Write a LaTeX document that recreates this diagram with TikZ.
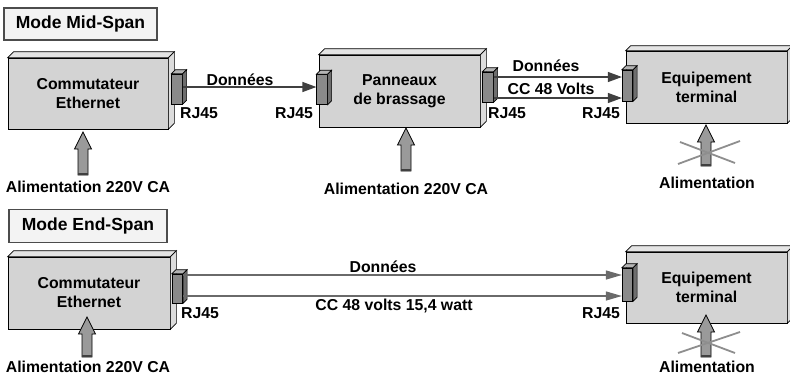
\documentclass[tikz,border=0pt]{standalone}
\usepackage{fontspec}
\setmainfont{Liberation Sans}
\usetikzlibrary{arrows.meta,calc}
\definecolor{frontc}{HTML}{D3D3D3}
\definecolor{topc}{HTML}{E4E4E4}
\definecolor{sidec}{HTML}{DCDCDC}
\definecolor{confront}{HTML}{8A8A8A}
\definecolor{contop}{HTML}{B4B4B4}
\definecolor{conside}{HTML}{6E6E6E}
\definecolor{titlefill}{HTML}{F3F3F3}
\definecolor{pwrfill}{HTML}{9A9A9A}
\definecolor{crossc}{HTML}{8E8E8E}
\definecolor{endline}{HTML}{6A6A6A}
\newcommand\solidfaces[4]{%
  \draw[line width=0.7pt, fill=#3] (#1.north west) -- ++(#2,-#2) -- ([shift={(#2,-#2)}]#1.north east) -- (#1.north east) -- cycle;
  \draw[line width=0.7pt, fill=#4] (#1.north east) -- ++(#2,-#2) -- ([shift={(#2,-#2)}]#1.south east) -- (#1.south east) -- cycle;}
\newcommand\powerarrow[3]{%
  \draw[line width=0.7pt, fill=pwrfill] (#1,#2) -- (#1+8.5,#2+17) -- (#1+5,#2+17) -- (#1+5,#3) -- (#1-5,#3) -- (#1-5,#2+17) -- (#1-8.5,#2+17) -- cycle;
  \draw[line width=1.6pt, black!75] (#1-5,#3-0.8) -- (#1+5,#3-0.8);}
\begin{document}
\begin{tikzpicture}[x=1pt,y=-1pt,
  txt/.style={font=\fontsize{15.8}{19}\selectfont\bfseries},
  lbl/.style={txt, inner sep=0},
  box/.style={txt, draw=black, line width=0.7pt, fill=frontc, inner sep=0, align=center},
  conn/.style={draw=black, line width=0.7pt, fill=confront, inner sep=0, minimum width=10.5, minimum height=30},
  title/.style={font=\fontsize{17.5}{20}\selectfont\bfseries, draw=black!70, line width=1.2pt, fill=titlefill, inner sep=0},
  midarr/.style={line width=1.2pt, black!75, -{Triangle[length=14pt,width=10pt]}},
  endarr/.style={line width=1.2pt, endline, -{Triangle[length=16pt,width=9pt]}},
  crossl/.style={line width=1.8pt, crossc}]
\useasboundingbox (0,0) rectangle (790,376);

% ---------- Mid-Span ----------
\node[title, minimum width=153, minimum height=32] (t1) at (80.5,24) {Mode Mid-Span};

\node[box, minimum width=160, minimum height=71] (b1) at (88,93.5) {Commutateur\\Ethernet};
\solidfaces{b1}{6}{topc}{sidec}
\node[box, minimum width=161, minimum height=72] (b2) at (399.5,91) {Panneaux\\de brassage};
\solidfaces{b2}{6}{topc}{sidec}
\node[box, minimum width=161, minimum height=72] (b3) at (706.5,87) {Equipement\\terminal};
\solidfaces{b3}{5}{topc}{sidec}

\node[conn] (c1) at (177,89) {};
\solidfaces{c1}{4}{contop}{conside}
\node[conn] (c2) at (322,89.5) {};
\solidfaces{c2}{4}{contop}{conside}
\node[conn] (c3) at (488,87) {};
\solidfaces{c3}{4}{contop}{conside}
\node[conn, minimum height=31] (c4) at (627.5,85.5) {};
\solidfaces{c4}{4}{contop}{conside}

\node[lbl] (r1) at (199,113) {RJ45};
\node[lbl] (r2) at (294,113) {RJ45};
\node[lbl] (r3) at (507,113) {RJ45};
\node[lbl] (r4) at (601,113) {RJ45};

\draw[midarr] ([yshift=2pt]c1.east) -- ([yshift=2pt]c1.east -| c2.west);
\node[lbl] (d1) at (240,80) {Données};
\draw[midarr] ([yshift=10pt]c3.east) -- ([yshift=10pt]c3.east -| c4.west);
\draw[midarr] ([yshift=-11pt]c3.east) -- ([yshift=-11pt]c3.east -| c4.west);
\node[lbl] (d2) at (546,66) {Données};
\node[lbl] (v2) at (551,89) {CC 48 Volts};

\powerarrow{83}{132}{175}
\node[lbl] (a1) at (88,187) {Alimentation 220V CA};
\powerarrow{406}{128}{171}
\node[lbl] (a2) at (406,189) {Alimentation 220V CA};
\powerarrow{706}{125}{166}
\draw[crossl] (680,142) -- (735,163) (678,164) -- (740,141);
\node[lbl] (a3) at (707,183) {Alimentation};

% ---------- End-Span ----------
\node[title, minimum width=158, minimum height=33] (t2) at (88,226) {Mode End-Span};

\node[box, minimum width=162, minimum height=72] (b4) at (89,293) {Commutateur\\Ethernet};
\solidfaces{b4}{6}{topc}{sidec}
\node[box, minimum width=161, minimum height=71] (b5) at (706.5,287.5) {Equipement\\terminal};
\solidfaces{b5}{6}{topc}{sidec}

\node[conn, minimum height=29] (c5) at (177.5,288.5) {};
\solidfaces{c5}{4}{contop}{conside}
\node[conn, minimum height=33] (c6) at (627.5,284.5) {};
\solidfaces{c6}{4}{contop}{conside}

\node[lbl] (r5) at (200,313) {RJ45};
\node[lbl] (r6) at (601,313) {RJ45};

\draw[endarr] ([yshift=13.5pt]c5.east) -- ([yshift=13.5pt]c5.east -| c6.west);
\draw[endarr] ([yshift=-7.5pt]c5.east) -- ([yshift=-7.5pt]c5.east -| c6.west);
\node[lbl] (d3) at (383,267) {Données};
\node[lbl] (v3) at (394,306) {CC 48 volts 15,4 watt};

\powerarrow{87}{317}{357}
\node[lbl] (a4) at (88,366.5) {Alimentation 220V CA};
\powerarrow{706}{315}{357}
\draw[crossl] (682,333) -- (735,353) (678,353) -- (740,332);
\node[lbl] (a5) at (707,367) {Alimentation};
\end{tikzpicture}
\end{document}
